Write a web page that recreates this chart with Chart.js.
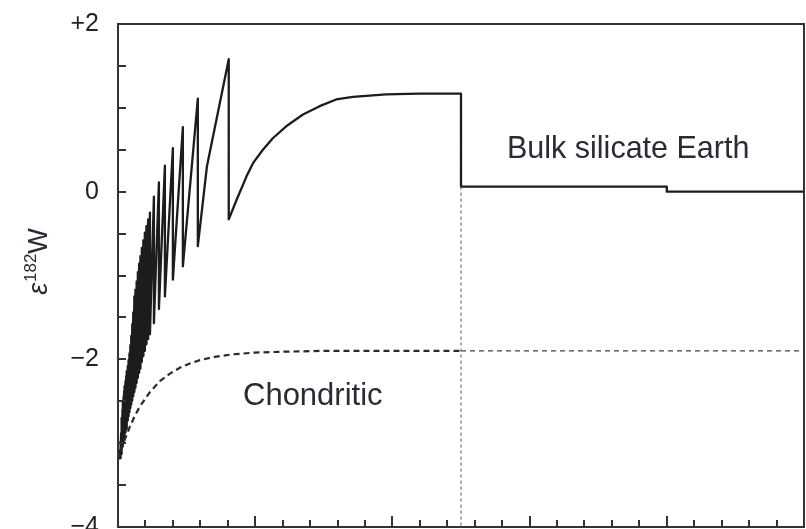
<!DOCTYPE html>
<html><head><meta charset="utf-8">
<script src="https://cdn.jsdelivr.net/npm/chart.js@4.4.1/dist/chart.umd.min.js"></script>
<style>html,body{margin:0;padding:0;background:#fff;}</style>
</head><body>
<canvas id="c" width="806" height="529"></canvas>
<script>
// ---- data (x in axis units 0..25, y = epsilon182W) ----
// sawtooth: value before each impact (peak) and right after it (trough)
const startPoint = [0, -3.2];
const toothX = [0.084, 0.098, 0.113, 0.127, 0.145, 0.164, 0.182, 0.204, 0.225, 0.247, 0.273, 0.298, 0.327, 0.356, 0.385, 0.418, 0.451, 0.484, 0.52, 0.556, 0.596, 0.636, 0.68, 0.724, 0.771, 0.818, 0.869, 0.924, 0.978, 1.036, 1.098, 1.164, 1.309, 1.491, 1.709, 2.0, 2.364, 2.909, 4.036];
const toothPeak = [-3.08, -2.98, -2.88, -2.80, -2.70, -2.60, -2.50, -2.44, -2.38, -2.32, -2.26, -2.20, -2.14, -2.08, -2.01, -1.93, -1.83, -1.72, -1.58, -1.44, -1.25, -1.17, -1.07, -0.96, -0.86, -0.77, -0.67, -0.58, -0.49, -0.41, -0.33, -0.25, -0.06, 0.11, 0.31, 0.52, 0.77, 1.11, 1.58];
const toothTrough = [-3.18, -3.16, -3.13, -3.10, -3.07, -3.04, -3.01, -2.98, -2.94, -2.91, -2.87, -2.83, -2.78, -2.73, -2.68, -2.63, -2.58, -2.54, -2.49, -2.44, -2.39, -2.34, -2.28, -2.22, -2.16, -2.11, -2.03, -1.96, -1.90, -1.82, -1.76, -1.70, -1.57, -1.40, -1.25, -1.05, -0.89, -0.65, -0.33];
const lastRiseKink = [3.24, 0.30];
const recoveryX = [4.32, 4.68, 4.92, 5.28, 5.65, 6.13, 6.74, 7.35, 7.95, 8.56, 9.77, 10.98, 12.5];
const recoveryY = [-0.10, 0.18, 0.34, 0.50, 0.64, 0.78, 0.92, 1.02, 1.10, 1.13, 1.16, 1.17, 1.17];
const bseX = [12.5, 20, 20, 25];
const bseY = [0.06, 0.06, 0.0, 0.0];
const chondX = [0, 0.109, 0.255, 0.436, 0.618, 0.8, 1.164, 1.527, 1.891, 2.255, 2.618, 2.982, 3.527, 4.182, 4.982, 5.891, 7.345, 12.5];
const chondY = [-3.2, -3.08, -2.95, -2.8, -2.67, -2.56, -2.39, -2.26, -2.17, -2.10, -2.05, -2.01, -1.97, -1.94, -1.92, -1.91, -1.90, -1.90];
const chondTailX = [12.5, 25];
const chondTailY = [-1.9, -1.9];
const coreX = [12.5, 12.5];
const coreY = [0.06, -4];
const yTickLabels = {"2":"+2","0":"0","-2":"\u22122","-4":"\u22124"};
const labelBSE = "Bulk silicate Earth";
const labelChond = "Chondritic";
const yTitleParts = ["\u03b5", "182", "W"];

const pts = (xs, ys) => xs.map((x, i) => ({x: x, y: ys[i]}));
const mainPts = [{x: startPoint[0], y: startPoint[1]}];
toothX.forEach((x, i) => {
  if (i === toothX.length - 1) mainPts.push({x: lastRiseKink[0], y: lastRiseKink[1]});
  mainPts.push({x: x, y: toothPeak[i]});
  mainPts.push({x: x, y: toothTrough[i]});
});
pts(recoveryX, recoveryY).forEach(p => mainPts.push(p));
pts(bseX, bseY).forEach(p => mainPts.push(p));

const FONT = "'Liberation Sans', Arial, sans-serif";

const decor = {
  id: 'decor',
  afterDraw(chart) {
    const ctx = chart.ctx, a = chart.chartArea;
    const xs = chart.scales.x, ys = chart.scales.y;
    ctx.save();
    ctx.strokeStyle = '#333';
    ctx.lineWidth = 2;
    ctx.strokeRect(a.left, a.top, a.right - a.left, a.bottom - a.top);
    ys.ticks.forEach(t => {
      const y = Math.round(ys.getPixelForValue(t.value));
      ctx.beginPath(); ctx.moveTo(a.left, y); ctx.lineTo(a.left + 8, y); ctx.stroke();
    });
    xs.ticks.forEach(t => {
      const x = Math.round(xs.getPixelForValue(t.value));
      const len = (Math.round(t.value) % 5 === 0) ? 11 : 7;
      ctx.beginPath(); ctx.moveTo(x, a.bottom); ctx.lineTo(x, a.bottom - len); ctx.stroke();
    });
    ctx.fillStyle = '#2b2b35';
    ctx.textBaseline = 'alphabetic';
    ctx.textAlign = 'left';
    ctx.font = '30.5px ' + FONT;
    ctx.fillText(labelBSE, 507, 158);
    ctx.font = '31px ' + FONT;
    ctx.fillText(labelChond, 243, 405);
    // y title
    ctx.translate(47, 262);
    ctx.rotate(-Math.PI / 2);
    const f1 = 'italic 27px ' + FONT, f2 = '17px ' + FONT, f3 = '27px ' + FONT;
    ctx.font = f1; const w1 = ctx.measureText(yTitleParts[0]).width;
    ctx.font = f2; const w2 = ctx.measureText(yTitleParts[1]).width;
    ctx.font = f3; const w3 = ctx.measureText(yTitleParts[2]).width;
    let x0 = -(w1 + w2 + w3) / 2;
    ctx.font = f1; ctx.fillText(yTitleParts[0], x0, 0); x0 += w1 + 1;
    ctx.font = f2; ctx.fillText(yTitleParts[1], x0, -11); x0 += w2;
    ctx.font = f3; ctx.fillText(yTitleParts[2], x0, 0);
    ctx.restore();
  }
};

new Chart(document.getElementById('c'), {
  type: 'scatter',
  data: {
    datasets: [
      {data: pts(coreX, coreY), showLine: true, borderColor: '#555', borderWidth: 1, borderDash: [3, 3], pointRadius: 0},
      {data: pts(chondTailX, chondTailY), showLine: true, borderColor: '#444', borderWidth: 1.2, borderDash: [5, 4], pointRadius: 0},
      {data: pts(chondX, chondY), showLine: true, borderColor: '#2a2a2a', borderWidth: 2.2, borderDash: [6, 4], pointRadius: 0, tension: 0},
      {data: mainPts, showLine: true, borderColor: '#1c1c1c', borderWidth: 2.3, pointRadius: 0, tension: 0, borderJoinStyle: 'round'}
    ]
  },
  options: {
    responsive: false,
    devicePixelRatio: 1,
    animation: false,
    layout: {padding: {top: 24, right: 2, bottom: 0, left: 0}},
    plugins: {legend: {display: false}, tooltip: {enabled: false}},
    scales: {
      x: {
        type: 'linear', min: 0, max: 25,
        ticks: {display: false, stepSize: 1},
        grid: {display: false, drawTicks: false},
        border: {display: false},
        afterFit(s) { s.height = 2; s.paddingLeft = 0; s.paddingRight = 0; }
      },
      y: {
        min: -4, max: 2,
        ticks: {
          stepSize: 0.5, autoSkip: false, padding: 19, color: '#222',
          font: {size: 25, family: FONT},
          callback: (v) => yTickLabels[String(v)] !== undefined ? yTickLabels[String(v)] : ''
        },
        grid: {display: false, drawTicks: false},
        border: {display: false},
        afterFit(s) { s.width = 118; s.paddingTop = 0; s.paddingBottom = 0; }
      }
    }
  },
  plugins: [decor]
});
</script>
</body></html>
